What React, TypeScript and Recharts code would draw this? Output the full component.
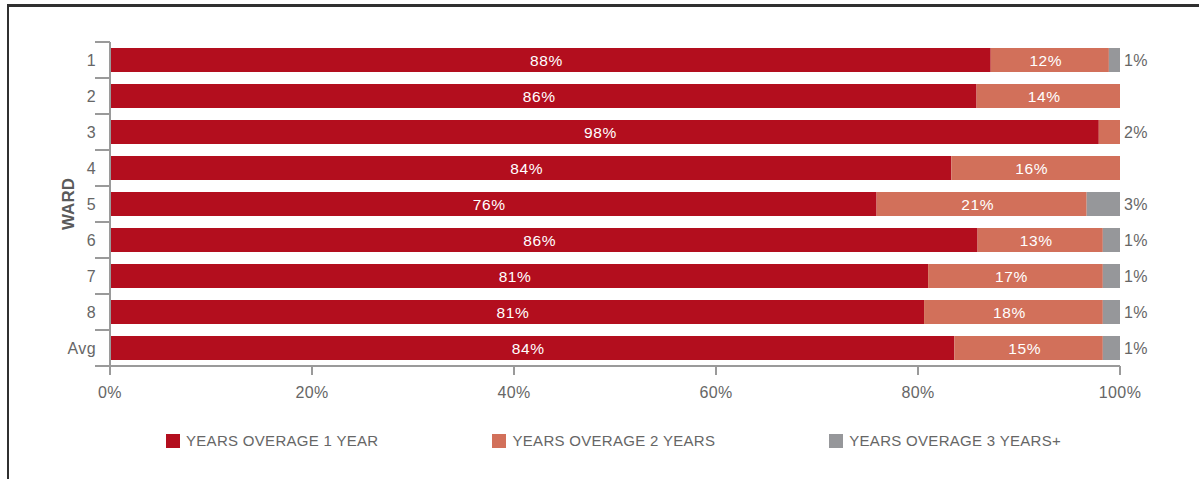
import React from 'react';
import { Bar, BarChart, LabelList, Legend, XAxis, YAxis } from 'recharts';

const wards = ['1', '2', '3', '4', '5', '6', '7', '8', 'Avg'];
// bar lengths (share of ward)
const overage1 = [87.2, 85.8, 97.9, 83.3, 75.9, 85.9, 81.0, 80.6, 83.6];
const overage2 = [11.7, 14.2, 2.1, 16.7, 20.8, 12.4, 17.3, 17.7, 14.7];
const overage3 = [1.1, 0, 0, 0, 3.3, 1.7, 1.7, 1.7, 1.7];
// printed labels
const label1 = [88, 86, 98, 84, 76, 86, 81, 81, 84];
const label2 = [12, 14, 2, 16, 21, 13, 17, 18, 15];
const label3 = [1, 0, 0, 0, 3, 1, 1, 1, 1];
const xTicks = [0, 0.2, 0.4, 0.6, 0.8, 1];

const series = [
  { key: 'y1', label: 'l1', name: 'YEARS OVERAGE 1 YEAR', color: '#B30E1E' },
  { key: 'y2', label: 'l2', name: 'YEARS OVERAGE 2 YEARS', color: '#D2705A' },
  { key: 'y3', label: 'l3', name: 'YEARS OVERAGE 3 YEARS+', color: '#96979A' },
];

const data = wards.map((ward, i) => ({
  ward,
  y1: overage1[i],
  y2: overage2[i],
  y3: overage3[i],
  l1: label1[i],
  l2: label2[i],
  l3: label3[i],
}));

const AXIS = '#9a9a9a';
const TEXT = '#666';
const BAND = 36;

const WardTick = (props: any) => {
  const { x, y, payload } = props;
  const right = x + 14;
  const last = payload.index === wards.length - 1;
  return (
    <g>
      <line x1={right - 15} x2={right} y1={y - BAND / 2} y2={y - BAND / 2} stroke={AXIS} strokeWidth={2} />
      {last && (
        <line x1={right - 15} x2={right} y1={y + BAND / 2} y2={y + BAND / 2} stroke={AXIS} strokeWidth={2} />
      )}
      <text x={x} y={y} textAnchor="end" dominantBaseline="central" fill={TEXT} fontSize={16} letterSpacing={0.4}>
        {payload.value}
      </text>
    </g>
  );
};

const renderLabel = (props: any) => {
  const { x, y, width, height, value } = props;
  if (!value || typeof value !== 'number') return null;
  if (value < 5) {
    return (
      <text x={x + width + 4} y={y + height / 2} dominantBaseline="central" fill={TEXT} fontSize={16} letterSpacing={0.4}>
        {value}%
      </text>
    );
  }
  return (
    <text x={x + width / 2 - 4} y={y + height / 2} textAnchor="middle" dominantBaseline="central" fill="#fff"
      fontSize={15.5} letterSpacing={0.6}>
      {value}%
    </text>
  );
};

const WardLabel = (props: any) => {
  const { viewBox } = props;
  const cx = viewBox.x + 68;
  const cy = viewBox.y + viewBox.height / 2;
  return (
    <text x={cx} y={cy} transform={`rotate(-90 ${cx} ${cy})`} textAnchor="middle" dominantBaseline="central"
      fill="#5a5a5a" fontSize={17} fontWeight="bold">
      WARD
    </text>
  );
};

const LegendBox = () => (
  <div style={{ height: 63, paddingTop: 16, paddingLeft: 166, boxSizing: 'border-box', display: 'flex' }}>
    {series.map((s) => (
      <div key={s.key} style={{ display: 'flex', alignItems: 'center', marginRight: 114, height: 17 }}>
        <span style={{ width: 14, height: 14, background: s.color, marginRight: 6, display: 'inline-block' }} />
        <span style={{ color: TEXT, fontSize: 15, letterSpacing: 0.3, whiteSpace: 'nowrap' }}>{s.name}</span>
      </div>
    ))}
  </div>
);

export default function App() {
  return (
    <div style={{ position: 'absolute', left: 0, top: 0, width: 1199, height: 479, background: '#fff',
      fontFamily: '"Liberation Sans", Arial, sans-serif' }}>
      <div style={{ position: 'absolute', left: 7, top: 4, width: 1200, height: 480,
        borderTop: '3px solid #303030', borderLeft: '2px solid #303030' }} />
      <BarChart width={1199} height={479} data={data} layout="vertical" stackOffset="expand" barSize={24}
        margin={{ top: 42, right: 79, left: 0, bottom: 0 }} style={{ position: 'absolute', left: 0, top: 0 }}>
        <XAxis type="number" domain={[0, 1]} ticks={xTicks} tickFormatter={(v) => `${Math.round(v * 100)}%`}
          height={50} tickSize={9} tickMargin={12} stroke={AXIS} strokeWidth={2}
          tick={{ fill: TEXT, fontSize: 16, letterSpacing: 0.4 }} />
        <YAxis type="category" dataKey="ward" width={110} tickSize={0} tickMargin={14} tickLine={false}
          axisLine={{ stroke: AXIS, strokeWidth: 2 }} tick={<WardTick />} label={<WardLabel />} />
        <Legend verticalAlign="bottom" content={<LegendBox />} wrapperStyle={{ left: 0, width: 1199 }} />
        {series.map((s) => (
          <Bar key={s.key} dataKey={s.key} name={s.name} stackId="w" fill={s.color} isAnimationActive={false}>
            <LabelList dataKey={s.label} content={renderLabel} />
          </Bar>
        ))}
      </BarChart>
    </div>
  );
}
